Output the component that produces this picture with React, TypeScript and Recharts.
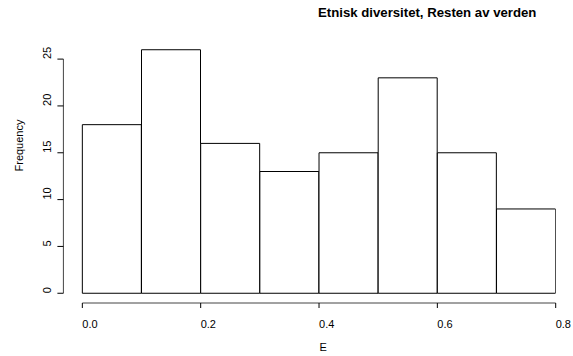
import { BarChart, Bar, XAxis, YAxis, ReferenceLine } from "recharts";

const BIN_START = [0, 0.1, 0.2, 0.3, 0.4, 0.5, 0.6, 0.7];
const BIN_WIDTH = 0.1;
const FREQUENCY = [18, 26, 16, 13, 15, 23, 15, 9];
const X_TICKS = [0, 0.2, 0.4, 0.6, 0.8];
const Y_TICKS = [0, 5, 10, 15, 20, 25];

// R pads the plot region by 4% of the data range on each side
const X_MAX = 0.8;
const X_LO = -0.04 * X_MAX;
const Y_MAX = 26;
const Y_LO = -0.04 * Y_MAX;
const Y_HI = Y_MAX * 1.04;

const FONT = "Arial, 'Liberation Sans', Helvetica, sans-serif";

const data = BIN_START.map((s, i) => ({
  mid: s + BIN_WIDTH / 2,
  count: FREQUENCY[i],
}));

function XTick({ x, payload }: any) {
  return (
    <text x={x} y={327.5} fontSize={11} fontFamily={FONT} fill="#000" textAnchor="start">
      {Number(payload.value).toFixed(1)}
    </text>
  );
}

function YTick({ y, payload }: any) {
  return (
    <text
      transform={`translate(50.5, ${y}) rotate(-90)`}
      fontSize={11}
      fontFamily={FONT}
      fill="#000"
      textAnchor="start"
    >
      {payload.value}
    </text>
  );
}

export default function App() {
  return (
    <div style={{ position: "absolute", left: 0, top: 0, width: 573, height: 356, background: "#fff" }}>
      <div
        style={{
          position: "absolute",
          left: 318,
          top: 6,
          fontFamily: FONT,
          fontWeight: 700,
          fontSize: 13.2,
          lineHeight: "13.2px",
          whiteSpace: "nowrap",
          color: "#000",
        }}
      >
        Etnisk diversitet, Resten av verden
      </div>
      <BarChart
        width={573}
        height={356}
        data={data}
        barCategoryGap={0}
        margin={{ top: 40, right: 17.3, bottom: 3, left: 13.4 }}
      >
        <XAxis
          dataKey="mid"
          type="number"
          domain={[X_LO, X_MAX]}
          allowDataOverflow
          ticks={X_TICKS}
          interval={0}
          height={50}
          axisLine={false}
          tickSize={5}
          tickLine={{ stroke: "#000" }}
          tick={<XTick />}
          label={{
            content: () => (
              <text x={319.5} y={351} fontSize={11} fontFamily={FONT} fill="#000" textAnchor="start">
                E
              </text>
            ),
          }}
        />
        <YAxis
          type="number"
          domain={[Y_LO, Y_HI]}
          allowDataOverflow
          ticks={Y_TICKS}
          interval={0}
          width={50}
          axisLine={false}
          tickSize={6}
          tickLine={{ stroke: "#000" }}
          tick={<YTick />}
          label={{
            content: () => (
              <text
                transform="translate(23, 171.5) rotate(-90)"
                fontSize={11}
                fontFamily={FONT}
                fill="#000"
                textAnchor="start"
              >
                Frequency
              </text>
            ),
          }}
        />
        <Bar
          dataKey="count"
          fill="#fff"
          stroke="#000"
          strokeWidth={1}
          isAnimationActive={false}
        />
        <ReferenceLine
          segment={[
            { x: 0, y: Y_LO },
            { x: X_MAX, y: Y_LO },
          ]}
          stroke="#444"
          strokeWidth={1}
          ifOverflow="visible"
        />
        <ReferenceLine
          segment={[
            { x: X_LO, y: 0 },
            { x: X_LO, y: 25 },
          ]}
          stroke="#444"
          strokeWidth={1}
          ifOverflow="visible"
        />
      </BarChart>
    </div>
  );
}
